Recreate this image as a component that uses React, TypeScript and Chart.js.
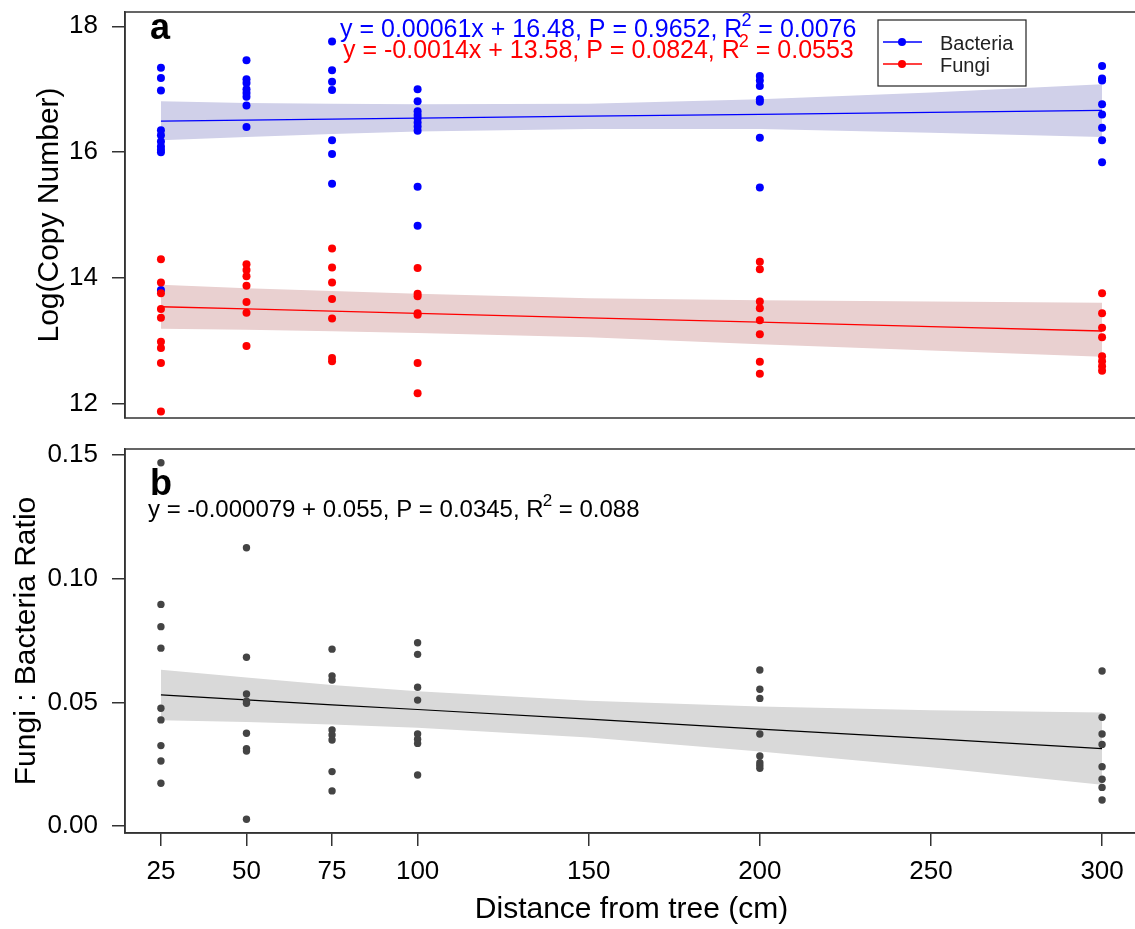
import React, { useEffect, useRef } from 'react';
import { Chart, registerables } from 'chart.js';

Chart.register(...registerables);

const FONT = '"Liberation Sans", Arial, sans-serif';

// ---------- data ----------
const distances = [25, 50, 75, 100, 200, 300];

const bacteria = [
  [17.34, 17.18, 16.98, 16.35, 16.27, 16.17, 16.09, 16.04, 16.0, 13.81],
  [17.46, 17.16, 17.1, 17.0, 16.94, 16.88, 16.74, 16.4],
  [17.76, 17.3, 17.12, 16.99, 16.19, 15.97, 15.5],
  [17.0, 16.81, 16.65, 16.59, 16.54, 16.47, 16.41, 16.34, 15.45, 14.83],
  [17.21, 17.14, 17.05, 16.84, 16.8, 16.23, 15.44],
  [17.37, 17.17, 17.14, 16.76, 16.6, 16.39, 16.19, 15.84],
];

const fungi = [
  [14.3, 13.93, 13.76, 13.51, 13.37, 12.99, 12.89, 12.65, 11.88],
  [14.22, 14.13, 14.03, 13.88, 13.62, 13.45, 12.92],
  [14.47, 14.17, 13.93, 13.67, 13.36, 12.73, 12.68],
  [14.16, 13.75, 13.71, 13.44, 13.42, 12.65, 12.17],
  [14.26, 14.14, 13.63, 13.52, 13.33, 13.11, 12.67, 12.48],
  [13.76, 13.44, 13.21, 13.06, 12.76, 12.68, 12.6, 12.53],
];

const ratio = [
  [0.1469, 0.0896, 0.0806, 0.0719, 0.0476, 0.0429, 0.0325, 0.0263, 0.0173],
  [0.1125, 0.0682, 0.0534, 0.0505, 0.0496, 0.0375, 0.0313, 0.0303, 0.0027],
  [0.0715, 0.0607, 0.059, 0.0388, 0.0368, 0.0348, 0.022, 0.0142],
  [0.0741, 0.0694, 0.0561, 0.0509, 0.0372, 0.0351, 0.0334, 0.0206],
  [0.0631, 0.0553, 0.0516, 0.0372, 0.0283, 0.0256, 0.0245, 0.0233],
  [0.0627, 0.044, 0.0372, 0.033, 0.024, 0.0189, 0.0156, 0.0105],
];

const bandX = [25, 50, 75, 100, 150, 200, 250, 300];
const bacteriaFit = [16.495, 16.51, 16.526, 16.541, 16.572, 16.602, 16.633, 16.663];
const bacteriaUpper = [16.81, 16.78, 16.77, 16.76, 16.77, 16.84, 16.95, 17.08];
const bacteriaLower = [16.19, 16.24, 16.29, 16.33, 16.37, 16.37, 16.31, 16.24];
const fungiFit = [13.545, 13.51, 13.475, 13.44, 13.37, 13.3, 13.23, 13.16];
const fungiUpper = [13.895, 13.84, 13.795, 13.75, 13.68, 13.65, 13.63, 13.61];
const fungiLower = [13.195, 13.18, 13.155, 13.13, 13.06, 12.95, 12.85, 12.75];
const ratioFit = [0.053, 0.051, 0.049, 0.0471, 0.0432, 0.0392, 0.0353, 0.0313];
const ratioUpper = [0.0632, 0.06, 0.057, 0.0545, 0.0506, 0.0483, 0.0468, 0.0459];
const ratioLower = [0.0428, 0.042, 0.041, 0.0397, 0.0358, 0.0301, 0.0238, 0.0167];

const xTicks = [25, 50, 75, 100, 150, 200, 250, 300];
const yTicksA = [12, 14, 16, 18];
const yTicksB = [0, 0.05, 0.1, 0.15];

const xTitle = 'Distance from tree (cm)';
const yTitleA = 'Log(Copy Number)';
const yTitleB = 'Fungi : Bacteria Ratio';
const legendLabels = ['Bacteria', 'Fungi'];
const eqBacteria = ['y = 0.00061x + 16.48, P = 0.9652, R', '2', ' = 0.0076'];
const eqFungi = ['y = -0.0014x + 13.58, P = 0.0824, R', '2', ' = 0.0553'];
const eqRatio = ['y = -0.000079 + 0.055, P = 0.0345, R', '2', ' = 0.088'];

const BLUE = '#0000FF';
const RED = '#FF0000';
const DARK = '#444444';

// ---------- helpers ----------
const scatterPts = (groups: number[][]) =>
  distances.flatMap((d, i) => groups[i].map((v) => ({ x: d, y: v })));
const linePts = (vals: number[]) => bandX.map((x, i) => ({ x, y: vals[i] }));

function drawEq(ctx: CanvasRenderingContext2D, x: number, y: number, parts: string[], size: number, color: string) {
  ctx.fillStyle = color;
  ctx.textAlign = 'left';
  ctx.textBaseline = 'alphabetic';
  ctx.font = `${size}px ${FONT}`;
  ctx.fillText(parts[0], x, y);
  let w = ctx.measureText(parts[0]).width;
  ctx.font = `${Math.round(size * 0.7)}px ${FONT}`;
  ctx.fillText(parts[1], x + w - 1, y - size * 0.45);
  w += ctx.measureText(parts[1]).width - 1;
  ctx.font = `${size}px ${FONT}`;
  ctx.fillText(parts[2], x + w, y);
}

const bandDatasets = (upper: number[], lower: number[], color: string) => [
  {
    data: linePts(upper),
    showLine: true,
    borderColor: 'transparent',
    pointRadius: 0,
    fill: '+1',
    backgroundColor: color,
    order: 10,
  },
  {
    data: linePts(lower),
    showLine: true,
    borderColor: 'transparent',
    pointRadius: 0,
    fill: false,
    order: 10,
  },
];

const fitDataset = (vals: number[], color: string, width: number) => ({
  data: linePts(vals),
  showLine: true,
  borderColor: color,
  borderWidth: width,
  pointRadius: 0,
  fill: false,
  order: 5,
});

const pointDataset = (groups: number[][], color: string, r: number, order: number) => ({
  data: scatterPts(groups),
  showLine: false,
  pointRadius: r,
  pointBackgroundColor: color,
  pointBorderColor: color,
  pointBorderWidth: 0,
  fill: false,
  order,
});

const X_MIN = 14.5;
const X_MAX = 310.5;

const zeroPad = (s: any) => {
  s.paddingTop = 0;
  s.paddingBottom = 0;
  s.paddingLeft = 0;
  s.paddingRight = 0;
};

const yAxis = (min: number, max: number, ticks: number[], fmt: (v: number) => string, title: string, titlePad: number) => ({
  type: 'linear',
  min,
  max,
  afterBuildTicks: (s: any) => {
    s.ticks = ticks.map((v) => ({ value: v }));
  },
  afterFit: (s: any) => {
    s.width = 125;
    zeroPad(s);
  },
  ticks: {
    font: { family: FONT, size: 26 },
    color: '#000',
    padding: 14,
    callback: (v: any) => fmt(Number(v)),
  },
  grid: { drawOnChartArea: false, drawTicks: true, tickLength: 13, color: '#333', lineWidth: 1.5 },
  border: { display: true, color: '#333', width: 1.5 },
  title: {
    display: true,
    text: title,
    color: '#000',
    font: { family: FONT, size: 30 },
    padding: { top: titlePad, bottom: 0 },
  },
});

function boxPlugin(id: string, draw: (ctx: CanvasRenderingContext2D, ca: any) => void) {
  return {
    id,
    afterDatasetsDraw(chart: any) {
      const ctx = chart.ctx as CanvasRenderingContext2D;
      const ca = chart.chartArea;
      ctx.save();
      ctx.strokeStyle = '#333';
      ctx.lineWidth = 1.5;
      ctx.strokeRect(ca.left, ca.top, ca.right - ca.left, ca.bottom - ca.top);
      draw(ctx, ca);
      ctx.restore();
    },
  };
}

export default function App() {
  const refA = useRef<HTMLCanvasElement>(null);
  const refB = useRef<HTMLCanvasElement>(null);

  useEffect(() => {
    const plugA = boxPlugin('annotA', (ctx, ca) => {
      ctx.fillStyle = '#000';
      ctx.font = `bold 36px ${FONT}`;
      ctx.textAlign = 'left';
      ctx.textBaseline = 'alphabetic';
      ctx.fillText('a', ca.left + 25, ca.top + 27);
      drawEq(ctx, ca.left + 215, ca.top + 25, eqBacteria, 25, BLUE);
      drawEq(ctx, ca.left + 218, ca.top + 46, eqFungi, 25, RED);
      // legend
      const lx = 878, ly = 20, lw = 148, lh = 66;
      ctx.fillStyle = '#fff';
      ctx.fillRect(lx, ly, lw, lh);
      ctx.strokeStyle = '#222';
      ctx.lineWidth = 1.2;
      ctx.strokeRect(lx, ly, lw, lh);
      const cols = [BLUE, RED];
      legendLabels.forEach((lab, i) => {
        const yy = ly + 22 + i * 22;
        ctx.strokeStyle = cols[i];
        ctx.lineWidth = 1.3;
        ctx.beginPath();
        ctx.moveTo(lx + 5, yy);
        ctx.lineTo(lx + 44, yy);
        ctx.stroke();
        ctx.fillStyle = cols[i];
        ctx.beginPath();
        ctx.arc(lx + 24, yy, 4, 0, Math.PI * 2);
        ctx.fill();
        ctx.fillStyle = '#222';
        ctx.font = `20px ${FONT}`;
        ctx.textBaseline = 'alphabetic';
        ctx.fillText(lab, lx + 62, yy + 8);
      });
    });

    const chartA = new Chart(refA.current as HTMLCanvasElement, {
      type: 'line',
      data: {
        datasets: [
          ...bandDatasets(bacteriaUpper, bacteriaLower, 'rgb(208,208,233)'),
          ...bandDatasets(fungiUpper, fungiLower, 'rgb(233,208,208)'),
          fitDataset(bacteriaFit, BLUE, 1.3),
          fitDataset(fungiFit, RED, 1.3),
          pointDataset(bacteria, BLUE, 4, 2),
          pointDataset(fungi, RED, 4, 1),
        ] as any,
      },
      options: {
        animation: false,
        responsive: false,
        maintainAspectRatio: false,
        events: [],
        layout: { padding: { top: 12, right: 12, bottom: 14, left: 0 } },
        plugins: { legend: { display: false }, tooltip: { enabled: false }, title: { display: false } },
        scales: {
          x: { type: 'linear', display: false, min: X_MIN, max: X_MAX },
          y: yAxis(11.778, 18.227, yTicksA, (v) => String(v), yTitleA, 32),
        } as any,
      },
      plugins: [plugA],
    });

    const plugB = boxPlugin('annotB', (ctx, ca) => {
      ctx.fillStyle = '#000';
      ctx.font = `bold 36px ${FONT}`;
      ctx.textAlign = 'left';
      ctx.textBaseline = 'alphabetic';
      ctx.fillText('b', ca.left + 25, ca.top + 46);
      drawEq(ctx, ca.left + 23, ca.top + 68, eqRatio, 24, '#000');
    });

    const chartB = new Chart(refB.current as HTMLCanvasElement, {
      type: 'line',
      data: {
        datasets: [
          ...bandDatasets(ratioUpper, ratioLower, 'rgb(217,217,217)'),
          fitDataset(ratioFit, '#000', 1.2),
          pointDataset(ratio, DARK, 3.7, 1),
        ] as any,
      },
      options: {
        animation: false,
        responsive: false,
        maintainAspectRatio: false,
        events: [],
        layout: { padding: { top: 17, right: 12, bottom: 0, left: 0 } },
        plugins: { legend: { display: false }, tooltip: { enabled: false }, title: { display: false } },
        scales: {
          x: {
            type: 'linear',
            min: X_MIN,
            max: X_MAX,
            afterBuildTicks: (s: any) => {
              s.ticks = xTicks.map((v) => ({ value: v }));
            },
            afterFit: (s: any) => {
              s.height = 96;
              zeroPad(s);
            },
            ticks: {
              font: { family: FONT, size: 26 },
              color: '#000',
              padding: 10,
              maxRotation: 0,
              autoSkip: false,
              callback: (v: any) => String(v),
            },
            grid: { drawOnChartArea: false, drawTicks: true, tickLength: 13, color: '#333', lineWidth: 1.5 },
            border: { display: true, color: '#333', width: 1.5 },
            title: {
              display: true,
              text: xTitle,
              color: '#000',
              font: { family: FONT, size: 30 },
              padding: { top: 0, bottom: 1 },
            },
          },
          y: yAxis(-0.00283, 0.15243, yTicksB, (v) => v.toFixed(2), yTitleB, 9),
        } as any,
      },
      plugins: [plugB],
    });

    return () => {
      chartA.destroy();
      chartB.destroy();
    };
  }, []);

  return (
    <div style={{ position: 'absolute', left: 0, top: 0, width: 1135, height: 929, overflow: 'hidden', background: '#fff' }}>
      <canvas ref={refA} width={1150} height={432} style={{ position: 'absolute', left: 0, top: 0, width: 1150, height: 432 }} />
      <canvas ref={refB} width={1150} height={497} style={{ position: 'absolute', left: 0, top: 432, width: 1150, height: 497 }} />
    </div>
  );
}
